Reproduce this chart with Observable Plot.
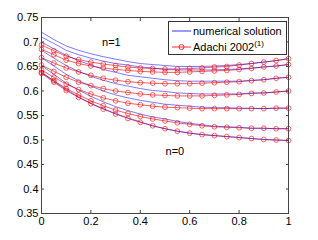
<!DOCTYPE html>
<html>
<head>
<meta charset="utf-8">
<script src="https://cdn.jsdelivr.net/npm/d3@7"></script>
<script src="https://cdn.jsdelivr.net/npm/@observablehq/plot@0.6"></script>
<style>
  html, body { margin: 0; padding: 0; background: #fff; }
  #wrap { position: relative; width: 318px; height: 240px; font-family: "Liberation Sans", Arial, sans-serif; }
  #legend { position: absolute; left: 168px; top: 21px; width: 117px; height: 32px; border: 1px solid #333; background: #fff; font-size: 11px; color: #000; }
  .row { position: absolute; left: 3px; height: 14px; display: flex; align-items: center; white-space: nowrap; }
  .row svg { margin-right: 2px; }
  sup { font-size: 8px; vertical-align: 5px; line-height: 0; }
</style>
</head>
<body>
<div id="wrap">
  <div id="chart"></div>
  <div id="legend">
    <div class="row" style="top:2px"><svg width="19" height="8"><line x1="0" y1="4" x2="19" y2="4" stroke="#0000ff" stroke-width="0.8"/></svg><span>numerical solution</span></div>
    <div class="row" style="top:18px"><svg width="19" height="8"><line x1="0" y1="4" x2="19" y2="4" stroke="#ff0000" stroke-width="0.8"/><circle cx="9.5" cy="4" r="2.5" fill="none" stroke="#ff0000" stroke-width="0.8"/></svg><span>Adachi 2002<sup>(1)</sup></span></div>
  </div>
</div>
<script>
// x positions (0 to 1, step 0.05)
const xs = [0,0.05,0.1,0.15,0.2,0.25,0.3,0.35,0.4,0.45,0.5,0.55,0.6,0.65,0.7,0.75,0.8,0.85,0.9,0.95,1];

// Adachi 2002 (red, circles), top (n=1) to bottom (n=0)
const adachi1 = [0.694,0.682,0.671,0.664,0.659,0.655,0.652,0.649,0.647,0.646,0.645,0.645,0.646,0.647,0.649,0.650,0.653,0.656,0.659,0.662,0.666];
const adachi2 = [0.685,0.674,0.663,0.656,0.651,0.647,0.644,0.642,0.640,0.639,0.638,0.638,0.639,0.640,0.641,0.642,0.644,0.646,0.649,0.651,0.654];
const adachi3 = [0.668,0.657,0.647,0.639,0.632,0.626,0.622,0.619,0.617,0.616,0.615,0.615,0.615,0.616,0.617,0.618,0.619,0.621,0.623,0.626,0.628];
const adachi4 = [0.653,0.640,0.628,0.618,0.611,0.605,0.600,0.597,0.594,0.592,0.591,0.590,0.590,0.590,0.591,0.592,0.593,0.595,0.596,0.598,0.600];
const adachi5 = [0.643,0.628,0.614,0.603,0.594,0.586,0.580,0.575,0.572,0.569,0.567,0.566,0.565,0.564,0.564,0.564,0.564,0.564,0.564,0.565,0.565];
const adachi6 = [0.638,0.621,0.605,0.592,0.580,0.570,0.561,0.554,0.548,0.543,0.539,0.535,0.532,0.529,0.527,0.526,0.525,0.524,0.524,0.523,0.523];
const adachi7 = [0.636,0.618,0.601,0.587,0.574,0.563,0.553,0.544,0.536,0.529,0.523,0.518,0.514,0.511,0.509,0.507,0.505,0.503,0.501,0.500,0.499];

// numerical solution (blue)
const numer1 = [0.720,0.705,0.692,0.683,0.676,0.670,0.665,0.660,0.656,0.654,0.652,0.650,0.650,0.650,0.651,0.652,0.654,0.656,0.659,0.662,0.666];
const numer2 = [0.710,0.697,0.683,0.674,0.667,0.661,0.656,0.653,0.649,0.647,0.644,0.643,0.643,0.643,0.643,0.644,0.645,0.647,0.649,0.651,0.654];
const numer3 = [0.700,0.686,0.673,0.662,0.653,0.644,0.638,0.632,0.629,0.626,0.623,0.621,0.620,0.620,0.620,0.620,0.620,0.622,0.623,0.626,0.628];
const numer4 = [0.683,0.667,0.652,0.640,0.630,0.622,0.615,0.610,0.605,0.601,0.599,0.596,0.595,0.594,0.594,0.594,0.594,0.596,0.596,0.598,0.600];
const numer5 = [0.668,0.651,0.634,0.621,0.610,0.600,0.592,0.586,0.581,0.577,0.573,0.571,0.569,0.567,0.566,0.566,0.565,0.565,0.564,0.565,0.565];
const numer6 = [0.652,0.634,0.616,0.602,0.589,0.578,0.568,0.560,0.553,0.547,0.543,0.538,0.534,0.531,0.528,0.527,0.526,0.524,0.524,0.523,0.523];
const numer7 = [0.638,0.620,0.603,0.588,0.575,0.564,0.554,0.545,0.537,0.529,0.523,0.518,0.514,0.511,0.509,0.507,0.505,0.503,0.501,0.500,0.499];

const xTicks = [0,0.2,0.4,0.6,0.8,1];
const yTicks = [0.35,0.4,0.45,0.5,0.55,0.6,0.65,0.7,0.75];
const notes = [{x:0.283, y:0.700, text:"n=1"}, {x:0.54, y:0.477, text:"n=0"}];

const adachi = [adachi1,adachi2,adachi3,adachi4,adachi5,adachi6,adachi7];
const numer = [numer1,numer2,numer3,numer4,numer5,numer6,numer7];
const toRows = (arrs) => arrs.flatMap((ys, k) => ys.map((y, i) => ({x: xs[i], y, s: k})));
const redRows = toRows(adachi);
const blueRows = toRows(numer);

const fmt = d => String(+d.toFixed(2));

const chart = Plot.plot({
  width: 318, height: 240,
  marginLeft: 41, marginRight: 30, marginTop: 17, marginBottom: 27,
  style: {fontSize: "11px", fontFamily: "'Liberation Sans', Arial, sans-serif", color: "#000", background: "#fff"},
  x: {domain: [0, 1], label: null},
  y: {domain: [0.35, 0.75], label: null},
  marks: [
    Plot.line(redRows, {x: "x", y: "y", z: "s", stroke: "#ff0000", strokeWidth: 0.8, strokeOpacity: 0.8}),
    Plot.line(blueRows, {x: "x", y: "y", z: "s", stroke: "#0000ff", strokeWidth: 0.8, strokeOpacity: 0.65}),
    Plot.dot(redRows, {x: "x", y: "y", r: 2.4, stroke: "#ff0000", fill: "none", strokeWidth: 0.8, strokeOpacity: 0.75}),
    Plot.text(notes, {x: "x", y: "y", text: "text", fontSize: 11, fill: "#000"}),
    Plot.frame({stroke: "#444"}),
    Plot.axisX(xTicks, {anchor: "bottom", label: null, tickSize: 0, tickPadding: 4, tickFormat: fmt}),
    Plot.axisX(xTicks, {anchor: "bottom", label: null, tickSize: -3, text: null, stroke: "#444"}),
    Plot.axisX(xTicks, {anchor: "top", label: null, tickSize: -3, text: null, stroke: "#444"}),
    Plot.axisY(yTicks, {anchor: "left", label: null, tickSize: 0, tickPadding: 3, tickFormat: fmt}),
    Plot.axisY(yTicks, {anchor: "left", label: null, tickSize: -3, text: null, stroke: "#444"}),
    Plot.axisY(yTicks, {anchor: "right", label: null, tickSize: -3, text: null, stroke: "#444"})
  ]
});
document.getElementById("chart").appendChild(chart);
</script>
</body>
</html>
